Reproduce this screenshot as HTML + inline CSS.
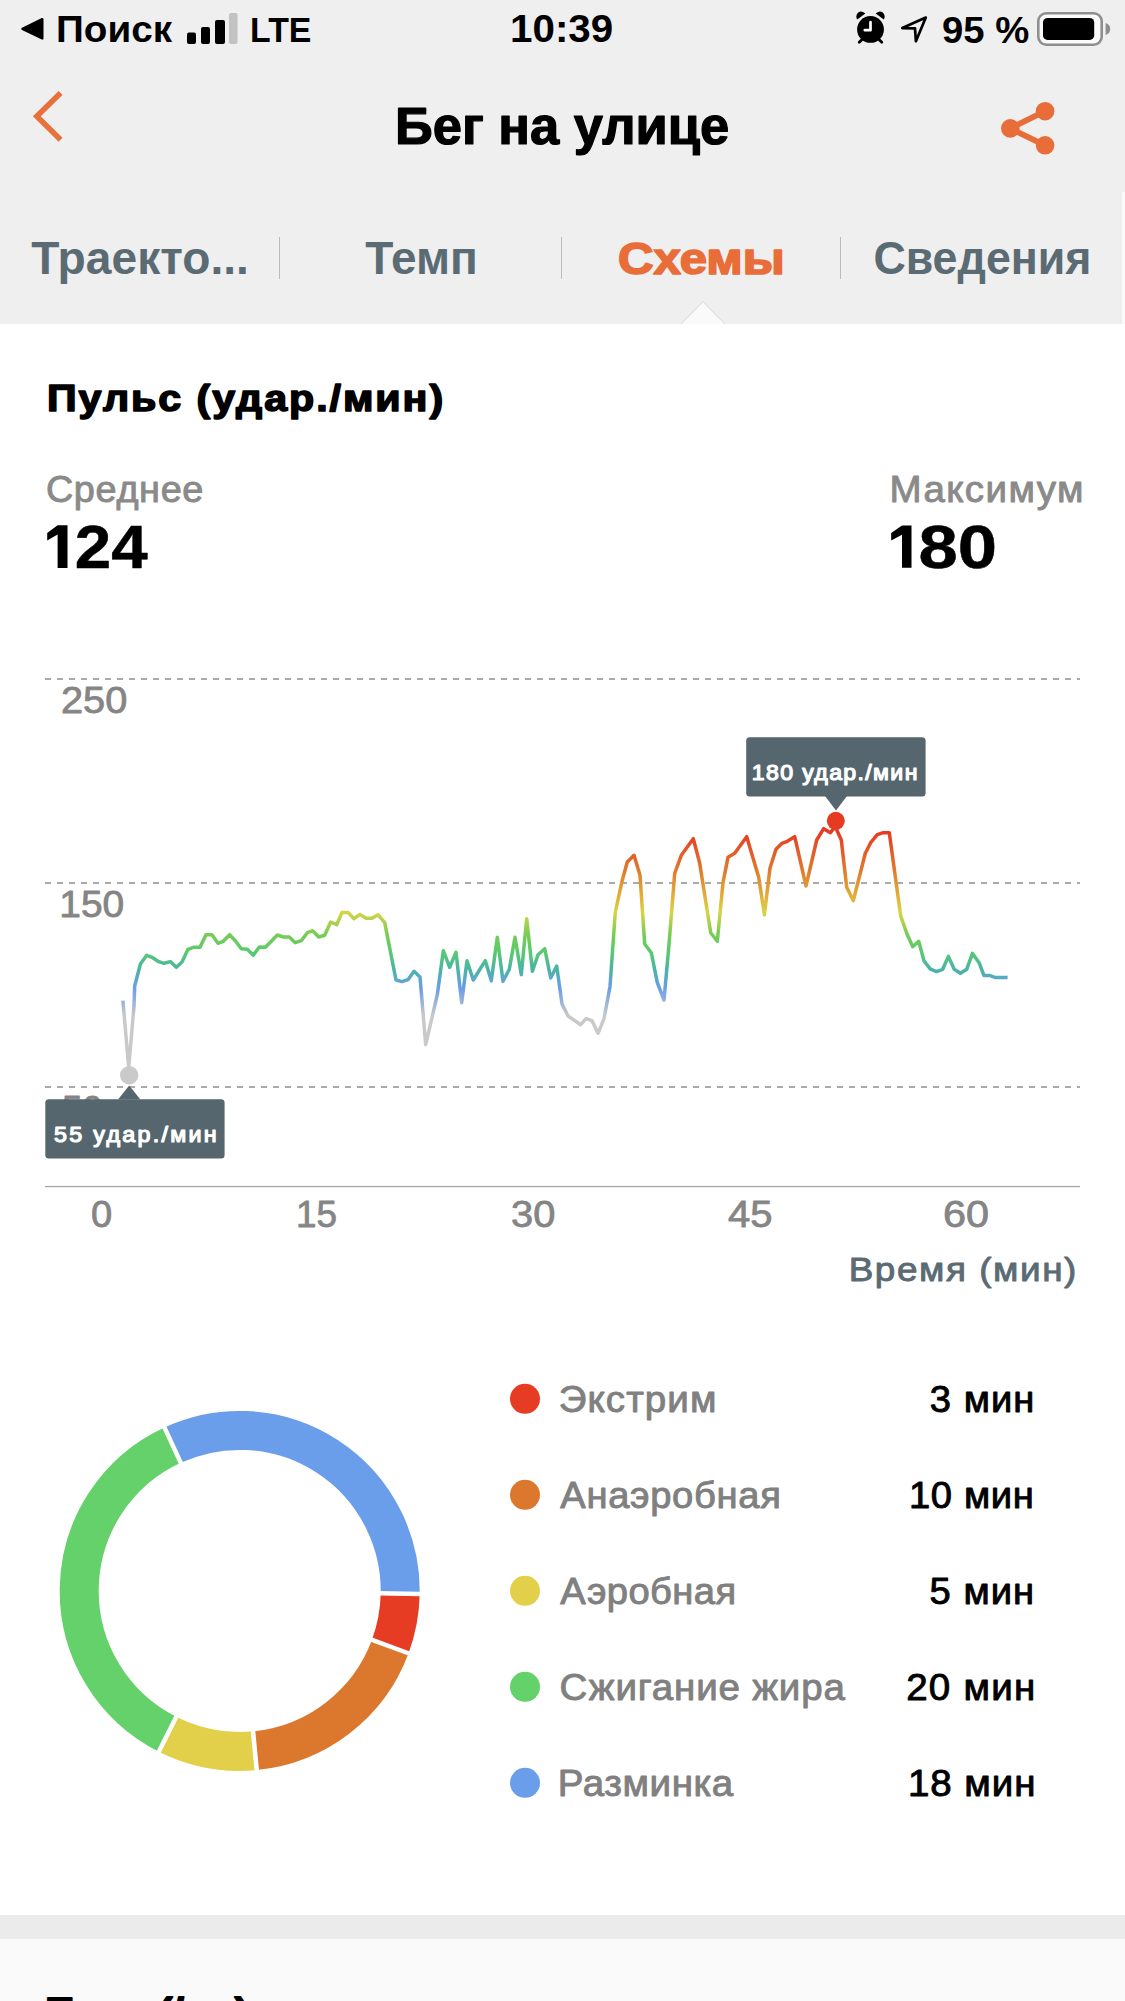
<!DOCTYPE html>
<html lang="ru">
<head>
<meta charset="utf-8">
<title>Бег на улице</title>
<style>
html,body{margin:0;padding:0;}
body{width:1125px;height:2001px;overflow:hidden;position:relative;background:#fff;font-family:"Liberation Sans",sans-serif;}
.sec{position:absolute;left:0;width:1125px;}
#top{top:0;height:324px;background:#efefef;}
#card{top:324px;height:1591px;background:#fff;}
#gap{top:1915px;height:24px;background:#ebebeb;}
#next{top:1939px;height:62px;background:#fafafa;}
svg{position:absolute;left:0;top:0;}
text{font-family:"Liberation Sans",sans-serif;}
</style>
</head>
<body>
<div class="sec" id="top"></div>
<div class="sec" id="card"></div>
<div class="sec" id="gap"></div>
<div class="sec" id="next"></div>
<svg width="1125" height="2001" viewBox="0 0 1125 2001">
<defs>
<linearGradient id="hr" gradientUnits="userSpaceOnUse" x1="0" y1="832" x2="0" y2="1016">
<stop offset="0.0000" stop-color="#e63b22"/>
<stop offset="0.2065" stop-color="#e07a2d"/>
<stop offset="0.3696" stop-color="#e2b63a"/>
<stop offset="0.4348" stop-color="#d7d445"/>
<stop offset="0.5598" stop-color="#76cc56"/>
<stop offset="0.6413" stop-color="#5ccb6a"/>
<stop offset="0.7500" stop-color="#4ab3a8"/>
<stop offset="0.8478" stop-color="#6a9ee8"/>
<stop offset="1.0000" stop-color="#c9c9c9"/>
</linearGradient>
</defs>

<!-- status bar -->
<g id="status" fill="#000">
<path d="M22.5 28.8 L42.3 19.2 L42.3 38.4 Z" stroke="#000" stroke-width="2.4" stroke-linejoin="round"/>
<rect x="187" y="32.5" width="9" height="11.5" rx="2"/>
<rect x="201" y="27" width="9" height="17" rx="2"/>
<rect x="215" y="20" width="10" height="24" rx="2"/>
<rect x="229" y="13" width="8.5" height="31" rx="2" fill="#c2c2c2"/>
<!-- alarm -->
<g>
<circle cx="870.5" cy="29.4" r="13.4"/>
<path d="M857.3 19.6 A5 5 0 0 1 865.3 13.6 Z M875.7 13.6 A5 5 0 0 1 883.7 19.6 Z"/>
<path d="M862.3 39.2 L859.2 42.3 M878.7 39.2 L881.8 42.3" stroke="#000" stroke-width="2.8" stroke-linecap="round"/>
<path d="M870.5 22.2 V30.2 H864.8" stroke="#fff" stroke-width="2.7" fill="none" stroke-linecap="round" stroke-linejoin="round"/>
</g>
<!-- location -->
<path d="M902.3 28.1 L925.8 17.6 L915.9 41.2 L915 28.3 Z" fill="none" stroke="#000" stroke-width="2.7" stroke-linejoin="round"/>
<!-- battery -->
<rect x="1038.3" y="13.3" width="63.4" height="31.4" rx="8" fill="#fafafa" stroke="#8e8e8e" stroke-width="2.6"/>
<rect x="1043" y="17.9" width="51.2" height="22" rx="4.5"/>
<path d="M1105.6 23 Q1110.2 24.5 1110.2 29 Q1110.2 33.5 1105.6 35 Z" fill="#8e8e8e"/>
</g>

<rect x="1122" y="192" width="3" height="132" fill="#fafafa"/>
<!-- nav -->
<polyline points="60.6,93 36.8,116.3 60.6,139.8" fill="none" stroke="#e8703a" stroke-width="5.5"/>
<g fill="#e86d39">
<circle cx="1045.1" cy="111.2" r="9.3"/>
<circle cx="1010.3" cy="128.4" r="9.3"/>
<circle cx="1045.1" cy="145.3" r="9.3"/>
<path d="M1010.3 128.4 L1045.1 111.2 M1010.3 128.4 L1045.1 145.3" stroke="#e86d39" stroke-width="5.8"/>
</g>

<!-- tabs -->
<g fill="#bcbcbc">
<rect x="279" y="237" width="1" height="42"/>
<rect x="561" y="237" width="1" height="42"/>
<rect x="840" y="237" width="1" height="42"/>
</g>
<path d="M680.5 324.5 L703 301.5 L725.5 324.5 Z" fill="#fafafa" stroke="#e2e2e2" stroke-width="1.2"/>
<rect x="670" y="324" width="70" height="2" fill="#fff"/>

<!-- header stats -->

<!-- big ones -->
<g fill="#000">
<path d="M57.6 525.3 L67.5 525.3 L67.5 568 L57.6 568 L57.6 534.5 L47.2 540.4 L47.2 532.9 Z"/>
<path d="M902 525.5 L911.5 525.5 L911.5 567.8 L902 567.8 L902 534.7 L891.2 540.6 L891.2 533.1 Z"/>
</g>
<!-- chart grid -->
<g stroke="#8f8f8f" stroke-width="1.5" stroke-dasharray="6 6">
<line x1="45" y1="679" x2="1080" y2="679"/>
<line x1="45" y1="883" x2="1080" y2="883"/>
<line x1="45" y1="1087" x2="1080" y2="1087"/>
</g>
<rect x="45" y="1185.9" width="1035" height="1.3" fill="#a6a6a6"/>

<!-- line -->
<path d="M122.9 1000.7 L128.7 1067.3 L134.0 1006.0 L134.7 986.0 L140.4 964.0 L146.7 955.3 L152.0 957.3 L158.0 961.3 L164.0 963.3 L170.3 961.6 L176.3 967.3 L182.0 962.0 L188.0 949.3 L193.3 947.3 L200.0 947.3 L206.0 934.7 L212.0 934.7 L218.0 943.3 L223.3 941.3 L229.6 934.7 L235.3 940.7 L241.3 948.7 L247.3 949.3 L253.3 955.3 L259.3 947.0 L265.3 947.3 L271.3 941.3 L277.3 935.0 L283.3 937.0 L289.3 937.0 L295.3 942.7 L301.3 940.7 L307.3 932.7 L312.7 930.7 L318.7 937.0 L324.7 935.3 L330.7 922.0 L336.7 924.7 L342.0 912.4 L348.0 912.4 L354.0 918.7 L360.0 914.4 L366.0 918.3 L372.0 918.3 L378.0 914.7 L384.7 922.7 L396.0 980.0 L402.0 981.6 L408.0 979.7 L414.0 971.3 L420.0 977.0 L425.7 1044.7 L437.3 994.7 L443.3 950.7 L449.7 967.3 L456.0 952.3 L461.7 1002.7 L467.0 960.7 L473.3 980.0 L485.3 960.7 L491.3 980.7 L497.3 937.3 L503.0 981.3 L509.3 969.3 L515.0 937.3 L521.3 974.7 L526.7 918.7 L532.4 971.3 L538.0 954.7 L544.7 948.7 L550.7 978.0 L556.7 966.0 L562.0 1004.0 L568.0 1016.0 L580.7 1024.7 L586.0 1018.7 L592.0 1020.7 L598.0 1033.3 L604.0 1018.7 L610.0 986.7 L615.3 912.0 L622.0 881.3 L627.3 862.0 L634.0 855.3 L640.0 875.3 L644.7 944.0 L651.3 952.7 L657.3 982.7 L664.0 1000.0 L668.7 948.0 L674.7 873.3 L681.3 855.3 L693.3 838.7 L699.6 862.7 L710.7 932.7 L717.3 941.3 L723.0 882.7 L728.0 857.3 L734.7 853.3 L746.7 836.7 L758.7 877.3 L764.4 914.7 L770.0 868.0 L776.0 849.3 L782.0 843.3 L787.3 841.3 L794.7 836.7 L806.0 886.0 L816.7 840.0 L823.7 828.7 L830.4 832.7 L835.3 826.7 L841.3 840.0 L846.7 887.3 L853.3 900.7 L865.3 853.3 L870.7 842.7 L877.3 834.7 L883.3 832.7 L889.3 832.7 L900.7 916.0 L906.7 933.3 L912.7 946.7 L918.7 941.3 L924.0 960.9 L930.2 968.9 L936.4 971.6 L942.7 969.3 L948.4 956.4 L954.2 969.3 L960.4 973.3 L966.7 969.3 L972.4 953.3 L979.1 962.7 L984.0 975.6 L990.2 975.6 L995.6 977.6 L1007.6 977.6" fill="none" stroke="url(#hr)" stroke-width="3.5" stroke-linejoin="round"/>

<text id="t_y50" x="62.00" y="1122.3" font-size="36.5" fill="#858585" stroke="#858585" stroke-width="0.8" stroke-linejoin="round">50</text>
<!-- tooltips -->
<g fill="#56666f">
<rect x="746.2" y="737.2" width="179.4" height="59.3" rx="3.5"/>
<path d="M825 796 L836 810.5 L847 796 Z"/>
<rect x="45.3" y="1099.3" width="179.3" height="59.2" rx="3.5"/>
<path d="M118 1099.5 L129.2 1085.6 L140.4 1099.5 Z"/>
</g>
<circle cx="835.8" cy="820.8" r="9" fill="#e63b22"/>
<circle cx="129.2" cy="1075.3" r="9.2" fill="#cacaca"/>

<!-- donut -->
<path d="M400.18 1593.70 A160.5 160.5 0 0 1 390.25 1646.55" stroke="#e53c23" stroke-width="39" fill="none"/>
<path d="M390.25 1646.55 A160.5 160.5 0 0 1 254.88 1750.68" stroke="#dc782e" stroke-width="39" fill="none"/>
<path d="M254.88 1750.68 A160.5 160.5 0 0 1 167.55 1734.27" stroke="#e2d04a" stroke-width="39" fill="none"/>
<path d="M167.55 1734.27 A160.5 160.5 0 0 1 172.60 1445.10" stroke="#64d16a" stroke-width="39" fill="none"/>
<path d="M172.60 1445.10 A160.5 160.5 0 0 1 400.18 1593.70" stroke="#6a9eea" stroke-width="39" fill="none"/>
<line x1="378.68" y1="1593.33" x2="421.67" y2="1594.08" stroke="#fff" stroke-width="4.5"/>
<line x1="370.08" y1="1639.09" x2="410.41" y2="1654.00" stroke="#fff" stroke-width="4.5"/>
<line x1="252.85" y1="1729.28" x2="256.92" y2="1772.08" stroke="#fff" stroke-width="4.5"/>
<line x1="177.21" y1="1715.06" x2="157.88" y2="1753.47" stroke="#fff" stroke-width="4.5"/>
<line x1="181.58" y1="1464.63" x2="163.61" y2="1425.57" stroke="#fff" stroke-width="4.5"/>

<!-- legend -->
<g>
<circle cx="525" cy="1398.8" r="15" fill="#e53c23"/>
<circle cx="525" cy="1494.8" r="15" fill="#dc782e"/>
<circle cx="525" cy="1590.8" r="15" fill="#e2d04a"/>
<circle cx="525" cy="1686.8" r="15" fill="#64d16a"/>
<circle cx="525" cy="1782.8" r="15" fill="#6a9eea"/>
</g>

<!-- next section title (cut) -->
<text id="t_poisk" x="56.00" y="42" font-size="36" fill="#000" font-weight="bold" textLength="116.00" lengthAdjust="spacingAndGlyphs">Поиск</text>
<text id="t_lte" x="250.00" y="41.5" font-size="35" fill="#000" font-weight="bold" textLength="61.40" lengthAdjust="spacingAndGlyphs">LTE</text>
<text id="t_time" x="510.00" y="42.4" font-size="38" fill="#000" font-weight="bold" textLength="103.20" lengthAdjust="spacingAndGlyphs">10:39</text>
<text id="t_batt" x="942.00" y="42.6" font-size="37" fill="#000" font-weight="bold" textLength="87.20" lengthAdjust="spacingAndGlyphs">95 %</text>
<text id="t_title" x="395.00" y="144.3" font-size="51" fill="#000" font-weight="bold" stroke="#000" stroke-width="1.2" stroke-linejoin="round" textLength="334.30" lengthAdjust="spacingAndGlyphs">Бег на улице</text>
<text id="t_tab1" x="31.20" y="274.3" font-size="46" fill="#5b6b74" font-weight="bold" textLength="217.70" lengthAdjust="spacingAndGlyphs">Траекто...</text>
<text id="t_tab2" x="365.30" y="274.3" font-size="46" fill="#5b6b74" font-weight="bold" textLength="112.60" lengthAdjust="spacingAndGlyphs">Темп</text>
<text id="t_tab3" x="618.00" y="274.3" font-size="45" fill="#e86d39" font-weight="bold" stroke="#e86d39" stroke-width="1.7" stroke-linejoin="round" textLength="166.70" lengthAdjust="spacingAndGlyphs">Схемы</text>
<text id="t_tab4" x="873.40" y="274.3" font-size="46" fill="#5b6b74" font-weight="bold" textLength="218.00" lengthAdjust="spacingAndGlyphs">Сведения</text>
<g transform="matrix(1.13 0 0 1 -6.110 0)"><text id="t_puls" x="47.00" y="410.8" font-size="36.5" fill="#000" font-weight="bold" stroke="#000" stroke-width="1.5" stroke-linejoin="round" textLength="350.62" lengthAdjust="spacing">Пульс (удар./мин)</text></g>
<g transform="matrix(1.05 0 0 1 -2.295 0)"><text id="t_avgl" x="45.90" y="501.8" font-size="36" fill="#8a8a8a" stroke="#8a8a8a" stroke-width="0.9" stroke-linejoin="round" textLength="150.00" lengthAdjust="spacing">Среднее</text></g>
<text id="t_avg" x="74.80" y="567.9" font-size="61" fill="#000" font-weight="bold" stroke="#000" stroke-width="0.5" stroke-linejoin="round" textLength="72.80" lengthAdjust="spacingAndGlyphs">24</text>
<g transform="matrix(1.07 0 0 1 -62.265 0)"><text id="t_maxl" x="889.50" y="501.9" font-size="36" fill="#8a8a8a" stroke="#8a8a8a" stroke-width="0.9" stroke-linejoin="round" textLength="181.21" lengthAdjust="spacing">Максимум</text></g>
<text id="t_max" x="918.40" y="568.4" font-size="61" fill="#000" font-weight="bold" stroke="#000" stroke-width="0.5" stroke-linejoin="round" textLength="78.50" lengthAdjust="spacingAndGlyphs">80</text>
<text id="t_y250" x="61.00" y="713" font-size="36.5" fill="#858585" stroke="#858585" stroke-width="0.8" stroke-linejoin="round" textLength="66.30" lengthAdjust="spacingAndGlyphs">250</text>
<text id="t_y150" x="59.30" y="917.3" font-size="36.5" fill="#858585" stroke="#858585" stroke-width="0.8" stroke-linejoin="round" textLength="65.00" lengthAdjust="spacingAndGlyphs">150</text>
<text id="t_x0" x="91.00" y="1226.6" font-size="36.5" fill="#858585" stroke="#858585" stroke-width="0.8" stroke-linejoin="round" textLength="21.20" lengthAdjust="spacingAndGlyphs">0</text>
<text id="t_x15" x="296.00" y="1226.6" font-size="36.5" fill="#858585" stroke="#858585" stroke-width="0.8" stroke-linejoin="round" textLength="41.00" lengthAdjust="spacingAndGlyphs">15</text>
<text id="t_x30" x="511.00" y="1226.6" font-size="36.5" fill="#858585" stroke="#858585" stroke-width="0.8" stroke-linejoin="round" textLength="44.30" lengthAdjust="spacingAndGlyphs">30</text>
<text id="t_x45" x="728.00" y="1226.6" font-size="36.5" fill="#858585" stroke="#858585" stroke-width="0.8" stroke-linejoin="round" textLength="44.50" lengthAdjust="spacingAndGlyphs">45</text>
<text id="t_x60" x="943.00" y="1226.6" font-size="36.5" fill="#858585" stroke="#858585" stroke-width="0.8" stroke-linejoin="round" textLength="46.00" lengthAdjust="spacingAndGlyphs">60</text>
<g transform="matrix(1.1 0 0 1 -84.870 0)"><text id="t_time_t" x="848.70" y="1281" font-size="33.5" fill="#5b6b74" stroke="#5b6b74" stroke-width="0.9" stroke-linejoin="round" textLength="207.00" lengthAdjust="spacing">Время (мин)</text></g>
<g transform="matrix(1.05 0 0 1 -37.590 0)"><text id="t_tt180" x="751.80" y="779.7" font-size="22" fill="#fff" stroke="#fff" stroke-width="1.2" stroke-linejoin="round" textLength="157.71" lengthAdjust="spacing">180 удар./мин</text></g>
<g transform="matrix(1.06 0 0 1 -3.246 0)"><text id="t_tt55" x="54.10" y="1141.8" font-size="22" fill="#fff" stroke="#fff" stroke-width="1.2" stroke-linejoin="round" textLength="153.30" lengthAdjust="spacing">55 удар./мин</text></g>
<g transform="matrix(1.07 0 0 1 -39.109 0)"><text id="t_l1" x="558.70" y="1412" font-size="36" fill="#808080" stroke="#808080" stroke-width="0.9" stroke-linejoin="round" textLength="147.38" lengthAdjust="spacing">Экстрим</text></g>
<g transform="matrix(1.06 0 0 1 -33.618 0)"><text id="t_l2" x="560.30" y="1508" font-size="36" fill="#808080" stroke="#808080" stroke-width="0.9" stroke-linejoin="round" textLength="208.02" lengthAdjust="spacing">Анаэробная</text></g>
<g transform="matrix(1.06 0 0 1 -33.618 0)"><text id="t_l3" x="560.30" y="1604" font-size="36" fill="#808080" stroke="#808080" stroke-width="0.9" stroke-linejoin="round" textLength="165.85" lengthAdjust="spacing">Аэробная</text></g>
<g transform="matrix(1.07 0 0 1 -39.158 0)"><text id="t_l4" x="559.40" y="1700" font-size="36" fill="#808080" stroke="#808080" stroke-width="0.9" stroke-linejoin="round" textLength="266.73" lengthAdjust="spacing">Сжигание жира</text></g>
<g transform="matrix(1.07 0 0 1 -39.046 0)"><text id="t_l5" x="557.80" y="1796" font-size="36" fill="#808080" stroke="#808080" stroke-width="0.9" stroke-linejoin="round" textLength="163.93" lengthAdjust="spacing">Разминка</text></g>
<g transform="matrix(1.06 0 0 1 -55.788 0)"><text id="t_v1" x="929.80" y="1412.2" font-size="36" fill="#000" stroke="#000" stroke-width="0.9" stroke-linejoin="round" textLength="98.68" lengthAdjust="spacing">3 мин</text></g>
<g transform="matrix(1.06 0 0 1 -54.540 0)"><text id="t_v2" x="909.00" y="1508" font-size="36" fill="#000" stroke="#000" stroke-width="0.9" stroke-linejoin="round" textLength="117.74" lengthAdjust="spacing">10 мин</text></g>
<g transform="matrix(1.06 0 0 1 -55.776 0)"><text id="t_v3" x="929.60" y="1604" font-size="36" fill="#000" stroke="#000" stroke-width="0.9" stroke-linejoin="round" textLength="98.68" lengthAdjust="spacing">5 мин</text></g>
<g transform="matrix(1.07 0 0 1 -63.434 0)"><text id="t_v4" x="906.20" y="1700" font-size="36" fill="#000" stroke="#000" stroke-width="0.9" stroke-linejoin="round" textLength="120.56" lengthAdjust="spacing">20 мин</text></g>
<g transform="matrix(1.07 0 0 1 -63.560 0)"><text id="t_v5" x="908.00" y="1796" font-size="36" fill="#000" stroke="#000" stroke-width="0.9" stroke-linejoin="round" textLength="119.07" lengthAdjust="spacing">18 мин</text></g>
<g transform="matrix(1.1 0 0 1 -4.750 0)"><text id="t_next" x="47.50" y="2024" font-size="36.5" fill="#000" font-weight="bold" stroke="#000" stroke-width="1.8" stroke-linejoin="round" textLength="182.45" lengthAdjust="spacing">Темп (/км)</text></g>
</svg>
</body>
</html>
